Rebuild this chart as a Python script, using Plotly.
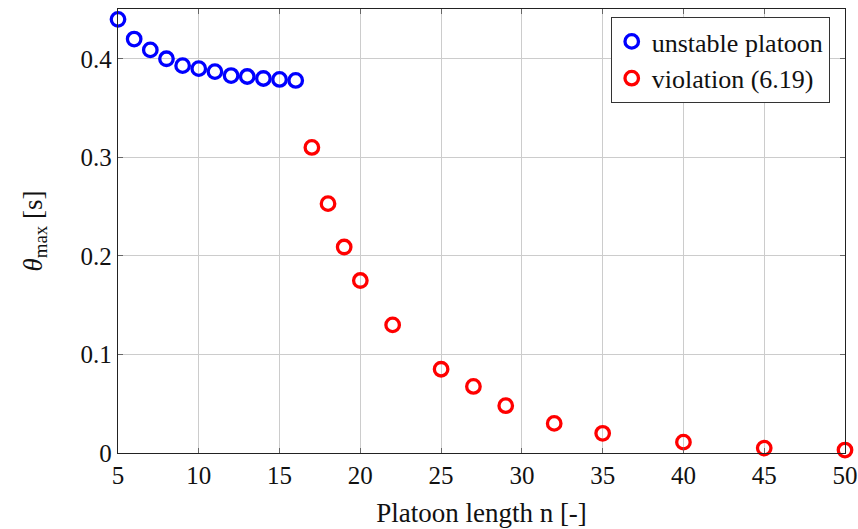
import plotly.graph_objects as go

# Data
n_unstable = [5, 6, 7, 8, 9, 10, 11, 12, 13, 14, 15, 16]
theta_unstable = [0.440, 0.420, 0.409, 0.400, 0.393, 0.390, 0.387, 0.383, 0.382, 0.380, 0.379, 0.378]
n_violation = [17, 18, 19, 20, 22, 25, 27, 29, 32, 35, 40, 45, 50]
theta_violation = [0.310, 0.253, 0.209, 0.175, 0.130, 0.085, 0.0675, 0.048, 0.030, 0.020, 0.011, 0.005, 0.003]
x_ticks = [5, 10, 15, 20, 25, 30, 35, 40, 45, 50]
y_ticks = [0, 0.1, 0.2, 0.3, 0.4]
y_tick_labels = ["0", "0.1", "0.2", "0.3", "0.4"]

FONT = "Liberation Serif"
TICK_SIZE = 25
TEXT_SIZE = 27

fig = go.Figure()
fig.add_trace(go.Scatter(
    x=n_unstable, y=theta_unstable, mode="markers", name="unstable platoon",
    marker=dict(symbol="circle-open", size=13.5, color="#0000ff", line=dict(width=3.3, color="#0000ff")),
    cliponaxis=False,
))
fig.add_trace(go.Scatter(
    x=n_violation, y=theta_violation, mode="markers", name="violation (6.19)",
    marker=dict(symbol="circle-open", size=13.5, color="#ff0000", line=dict(width=3.3, color="#ff0000")),
    cliponaxis=False,
))

axis_common = dict(
    showgrid=True, gridcolor="#cccccc", gridwidth=1,
    showline=True, linecolor="#222222", linewidth=1.3, mirror="ticks",
    ticks="inside", ticklen=5, tickcolor="#666666",
    zeroline=False, automargin=False,
    tickfont=dict(family=FONT, size=TICK_SIZE, color="#111111"),
)

fig.update_layout(
    width=858, height=529,
    margin=dict(l=118, r=13, t=9, b=76),
    paper_bgcolor="white", plot_bgcolor="white",
    font=dict(family=FONT, size=TEXT_SIZE, color="#111111"),
    xaxis=dict(range=[5, 50], tickvals=x_ticks, **axis_common,
               title=dict(text="Platoon length n [-]", font=dict(family=FONT, size=TEXT_SIZE), standoff=14)),
    yaxis=dict(range=[0, 0.4505], tickvals=y_ticks, ticktext=y_tick_labels, **axis_common,
               title=dict(text="<i>θ</i><sub>max</sub> [s]", font=dict(family=FONT, size=TEXT_SIZE), standoff=30)),
    legend=dict(
        x=0.979, y=0.982, xanchor="right", yanchor="top",
        bgcolor="white", bordercolor="#333333", borderwidth=1,
        font=dict(family=FONT, size=26, color="#111111"),
        itemwidth=30, tracegroupgap=0,
    ),
    showlegend=True,
)

fig.write_html("out.html", config={"displayModeBar": False},
               post_script="document.body.style.margin='0';")
